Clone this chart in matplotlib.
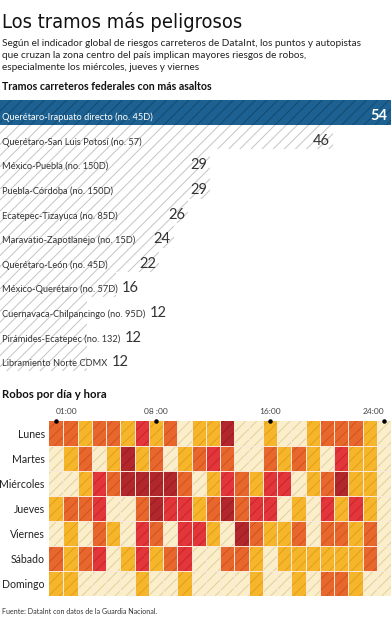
import matplotlib
matplotlib.use("Agg")
import matplotlib.pyplot as plt
import numpy as np

plt.rcParams['font.family'] = ['Lato', 'DejaVu Sans']
plt.rcParams['hatch.linewidth'] = 0.7

W, H = 391, 620

# ---- data ----
tramos = [
    "Querétaro-Irapuato directo (no. 45D)",
    "Querétaro-San Luis Potosí (no. 57)",
    "México-Puebla (no. 150D)",
    "Puebla-Córdoba (no. 150D)",
    "Ecatepec-Tizayuca (no. 85D)",
    "Maravatio-Zapotlanejo (no. 15D)",
    "Querétaro-León (no. 45D)",
    "México-Querétaro (no. 57D)",
    "Cuernavaca-Chilpancingo (no. 95D)",
    "Pirámides-Ecatepec (no. 132)",
    "Libramiento Norte CDMX",
]
asaltos = [54, 46, 29, 29, 26, 24, 22, 16, 12, 12, 12]

dias = ["Lunes", "Martes", "Miércoles", "Jueves", "Viernes", "Sábado", "Domingo"]
horas = list(range(1, 25))
hora_ticks = [1, 8, 16, 24]
hora_labels = ["01:00", "08 :00", "16:00", "24:00"]
# nivel de robos: 0 muy bajo ... 4 muy alto
niveles = [
    [2, 2, 1, 2, 2, 1, 3, 1, 2, 0, 1, 1, 4, 0, 0, 1, 0, 0, 1, 2, 2, 2, 1, 0],
    [0, 1, 2, 0, 1, 4, 1, 2, 0, 1, 2, 3, 2, 0, 0, 2, 1, 2, 1, 0, 3, 1, 1, 0],
    [0, 0, 1, 3, 2, 4, 4, 4, 4, 2, 0, 1, 3, 2, 1, 3, 3, 0, 1, 2, 4, 1, 1, 0],
    [1, 2, 2, 3, 0, 0, 2, 4, 3, 3, 1, 2, 4, 2, 3, 3, 0, 1, 0, 3, 1, 3, 1, 0],
    [0, 1, 0, 2, 1, 0, 3, 2, 0, 3, 3, 1, 0, 4, 2, 1, 1, 2, 0, 2, 2, 1, 2, 0],
    [2, 1, 2, 3, 0, 1, 3, 1, 2, 3, 0, 0, 2, 2, 1, 0, 1, 1, 1, 1, 1, 1, 2, 0],
    [1, 1, 0, 0, 0, 0, 1, 0, 0, 1, 0, 0, 0, 0, 1, 0, 0, 1, 0, 2, 2, 1, 0, 0],
]

face_cols = ['#faeecb', '#f6b62c', '#e7672c', '#e2363a', '#b2272b']
hatch_cols = ['#e3cf9c', '#e39e18', '#d0521f', '#c6262b', '#981d21']


def px(x, y):
    return x / W, 1 - y / H


fig = plt.figure(figsize=(W / 100, H / 100), dpi=100, facecolor='white')

# ---- titles ----
title = fig.text(*px(2, 28), "Los tramos más peligrosos", fontsize=20,
                 family=['DejaVu Sans', 'Lato'], fontstretch='condensed',
                 color='#111111', va='baseline')
subt = ["Según el indicador global de riesgos carreteros de DataInt, los puntos y autopistas",
        "que cruzan la zona centro del país implican mayores riesgos de robos,",
        "especialmente los miércoles, jueves y viernes"]
for i, line in enumerate(subt):
    fig.text(*px(2, 46 + i * 12), line, fontsize=7.2, color='#222222', va='baseline')

fig.text(*px(2, 90), "Tramos carreteros federales con más asaltos", fontsize=7.7,
         weight='bold', color='#111111', va='baseline')
fig.text(*px(2, 398), "Robos por día y hora", fontsize=8.2,
         weight='bold', color='#111111', va='baseline')
fig.text(*px(2, 614), "Fuente: DataInt con datos de la Guardia Nacional.", fontsize=5.1,
         color='#333333', va='baseline')

# ---- bar chart ----
l, b = px(0, 371)
axb = fig.add_axes([l, b, 1, 271 / H])
ypos = np.arange(len(tramos))
bcols = ['#1c6191'] + ['white'] * (len(tramos) - 1)
hcols = ['#134a70'] + ['#c4c4c4'] * (len(tramos) - 1)
axb.barh(ypos, asaltos, height=1.0, color=bcols, edgecolor=hcols,
         hatch='///', linewidth=0)
axb.set_xlim(0, 54)
axb.set_ylim(len(tramos) - 0.5, -0.5)
axb.axis('off')

lbls, nums = [], []
for i, (name, v) in enumerate(zip(tramos, asaltos)):
    c = 'white' if i == 0 else '#333333'
    t = axb.text(0.006, i + 0.2, name, transform=axb.get_yaxis_transform(),
                 fontsize=6.7, color=c, va='center', ha='left')
    n = axb.text(v - 0.45, i + 0.15, str(v), fontsize=10.5, color=c,
                 weight='bold' if i == 0 else 'normal', va='center', ha='right')
    lbls.append(t)
    nums.append(n)

fig.canvas.draw()
r = fig.canvas.get_renderer()

# no condensed face here: keep the title about as wide as the original
tw = title.get_window_extent(r).width
if tw > 240:
    title.set_fontsize(20 * 240 / tw)

inv = axb.transData.inverted()
for t, n, v in zip(lbls, nums, asaltos):
    tb = t.get_window_extent(r)
    nb = n.get_window_extent(r)
    if nb.x0 < tb.x1 + 3:
        xd = inv.transform((tb.x1 + 4, 0))[0]
        n.set_x(xd)
        n.set_ha('left')

# ---- heatmap ----
l, b = px(49, 596)
axh = fig.add_axes([l, b, (W - 49) / W, 175 / H])
for i, fila in enumerate(niveles):
    axh.bar(horas, 1, bottom=i - 0.5, width=1.0,
            color=[face_cols[k] for k in fila],
            edgecolor=[hatch_cols[k] for k in fila],
            hatch='///', linewidth=0)
for x in np.arange(1.5, 24.5, 1):
    axh.axvline(x, color='#fbe9dc', lw=0.7)
for y in np.arange(0.5, 6.5, 1):
    axh.axhline(y, color='#fbe9dc', lw=0.7)
axh.set_xlim(0.5, 24.5)
axh.set_ylim(6.5, -0.5)
axh.set_yticks(range(len(dias)))
axh.set_yticklabels(dias, fontsize=7.6, color='#222222')
axh.tick_params(axis='y', length=0, pad=3)
axh.set_xticks(hora_ticks)
axh.set_xticklabels(hora_labels, fontsize=6, color='#444444')
axh.xaxis.tick_top()
axh.tick_params(axis='x', length=0, pad=4)
ticks = axh.xaxis.get_major_ticks()
ticks[0].label2.set_ha('left')
ticks[0].label2.set_x(0.9)
ticks[-1].label2.set_ha('right')
axh.scatter(hora_ticks, [-0.5] * len(hora_ticks), s=5, color='black',
            zorder=5, clip_on=False)
for s in axh.spines.values():
    s.set_visible(False)

fig.savefig('out.png', dpi=100, facecolor='white')
